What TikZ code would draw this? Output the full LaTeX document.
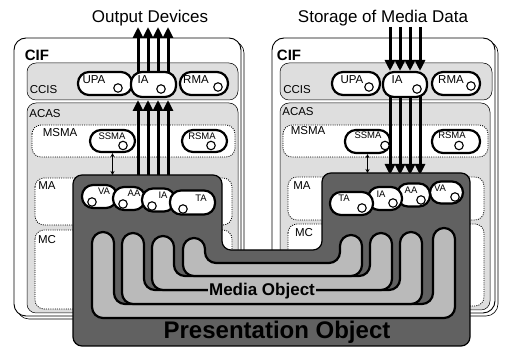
\documentclass[tikz,border=0pt]{standalone}
\usepackage{fontspec}
\setmainfont{Liberation Sans}
\usetikzlibrary{arrows.meta}
\newcommand\agent[8]{%
  \node[oval,minimum width=#3,minimum height=#4] (#1) at #2 {};
  \node[#8] (#1t) at #6 {#5};
  \node[port] (#1c) at #7 {};}
\newcommand\tube[6]{%
  \draw[mo] ({(#1+#3)/2},#6) -- (#1,#6) -- (#1,#2) -- ({#1+22},#2) -- ({#1+22},#5)
    -- (#3,#5) -- (#3,#4) -- ({#3+22},#4) -- ({#3+22},#6) -- cycle;}
\begin{document}
\begin{tikzpicture}[x=1pt,y=-1pt,
 cifbox/.style={draw,line width=0.9pt,fill=white,rounded corners=12pt},
 shadowbox/.style={draw,line width=0.6pt,fill=white,rounded corners=12pt},
 dotbox/.style={draw,line width=0.5pt,fill=black!13,rounded corners=9pt},
 dashbox/.style={draw,line width=0.8pt,dash pattern=on 1pt off 1.2pt,fill=white,rounded corners=9pt},
 oval/.style={draw,line width=2.2pt,fill=white,rounded corners=11pt,inner sep=0pt},
 port/.style={circle,draw,line width=1.1pt,minimum size=8.5pt,inner sep=0pt,fill=white},
 lbl/.style={inner sep=0pt,font=\fontsize{11.5}{11.5}\selectfont},
 slbl/.style={inner sep=0pt,font=\fontsize{9.5}{9.5}\selectfont},
 boxlbl/.style={inner sep=0pt,font=\fontsize{11.5}{11.5}\selectfont},
 ciflbl/.style={inner sep=0pt,font=\bfseries\fontsize{15}{15}\selectfont},
 head/.style={inner sep=0pt,font=\fontsize{17}{17}\selectfont},
 fat/.style={line width=3pt,-{Triangle[width=10pt,length=11pt]}},
 thinarr/.style={line width=1pt,{Stealth[length=4pt,width=4pt]}-{Stealth[length=4pt,width=4pt]}},
 po/.style={draw,line width=1.2pt,fill=black!62,rounded corners=9pt},
 mo/.style={draw,line width=2.2pt,fill=black!27,rounded corners=11pt},
]
\useasboundingbox (0,0) rectangle (507,352);

% ---------- left CIF ----------
\draw[shadowbox] (17,41) rectangle (244,319);
\draw[cifbox] (14,38) rectangle (241,316);
\draw[dotbox] (27,63) rectangle (238,100);
\draw[dotbox] (27,103) rectangle (238,313);
\draw[dashbox] (32,125) rectangle (235,157);
\draw[dashbox] (35,178) rectangle (232,225);
\draw[dashbox] (35,230) rectangle (232,309);
\node[ciflbl] (lcif) at (37,55) {CIF};
\node[boxlbl] (lccis) at (43.5,90) {CCIS};
\node[boxlbl] (lacas) at (45,114) {ACAS};
\node[boxlbl] (lmsma) at (60,133) {MSMA};
\node[boxlbl] (lma) at (47,186) {MA};
\node[boxlbl] (lmc) at (47,240) {MC};

% ---------- right CIF ----------
\draw[shadowbox] (275,41) rectangle (498,316);
\draw[cifbox] (272,38) rectangle (495,313);
\draw[dotbox] (280,63) rectangle (492,100);
\draw[dotbox] (280,103) rectangle (490,310);
\draw[dashbox] (283,125) rectangle (488,157);
\draw[dashbox] (288,177) rectangle (484,220);
\draw[dashbox] (288,224) rectangle (484,306);
\node[ciflbl] (rcif) at (289,55) {CIF};
\node[boxlbl] (rccis) at (297,90) {CCIS};
\node[boxlbl] (racas) at (298,112) {ACAS};
\node[boxlbl] (rmsma) at (308,131) {MSMA};
\node[boxlbl] (rma) at (302,186) {MA};
\node[boxlbl] (rmc) at (304,233) {MC};

% ---------- headings ----------
\node[head] (outdev) at (150,18) {Output Devices};
\node[head] (storage) at (383,18) {Storage of Media Data};

% ---------- media streams ----------
\foreach \i/\x in {1/138,2/148,3/158,4/168}{
  \coordinate (lo\i) at (\x,27);
  \coordinate (lu\i) at (\x,74);
  \coordinate (ld\i) at (\x,100);
  \coordinate (lp\i) at (\x,176);
}
\foreach \i/\x in {1/390,2/400,3/410,4/420}{
  \coordinate (ri\i) at (\x,27);
  \coordinate (rt\i) at (\x,71);
  \coordinate (rb\i) at (\x,95);
  \coordinate (rp\i) at (\x,175);
}
\foreach \i in {1,...,4}{
  \draw[fat] (lu\i) -- (lo\i);
  \draw[fat] (lp\i) -- (ld\i);
  \draw[fat] (ri\i) -- (rt\i);
  \draw[fat] (rb\i) -- (rp\i);
}

% ---------- agents in CCIS / MSMA ----------
\agent{lUPA}{(105,83.5)}{54pt}{23pt}{UPA}{(94,80)}{(118,88)}{lbl}
\agent{lIAc}{(153.5,84.5)}{45pt}{25pt}{IA}{(143,80)}{(161,89)}{lbl}
\agent{lRMA}{(204,83.5)}{48pt}{23pt}{RMA}{(196,80)}{(218,87)}{lbl}
\agent{lSSMA}{(112.5,141)}{45pt}{22pt}{SSMA}{(112,136)}{(123,145.5)}{slbl}
\agent{lRSMA}{(204.5,141)}{45pt}{22pt}{RSMA}{(202,136)}{(211,145.5)}{slbl}

\agent{rUPA}{(356,83.5)}{48pt}{23pt}{UPA}{(352,80)}{(369,87)}{lbl}
\agent{rIAc}{(405,84.5)}{44pt}{25pt}{IA}{(397,80)}{(417,89)}{lbl}
\agent{rRMA}{(456,83.5)}{48pt}{23pt}{RMA}{(451,80)}{(471,86)}{lbl}
\agent{rSSMA}{(367.5,141.5)}{45pt}{23pt}{SSMA}{(368,135)}{(385,145.5)}{slbl}
\agent{rRSMA}{(456,141.5)}{48pt}{23pt}{RSMA}{(452,135)}{(459,145.5)}{slbl}

% ---------- presentation object ----------
\draw[po] (73,346) -- (73,175) -- (222,175) -- (222,250) -- (322,250)
  -- (322,173) -- (470,173) -- (470,346) -- cycle;
\coordinate (lsd) at (112.5,175);
\coordinate (rsd) at (367.5,173);
\draw[thinarr] (lSSMA.south) -- (lsd);
\draw[thinarr] (rSSMA.south) -- (rsd);

% ---------- media object (nested tubes) ----------
\tube{92}{232}{433}{228}{304}{318}
\tube{122}{233}{400}{232}{290}{304}
\tube{152}{236}{370}{233}{276}{290}
\tube{183}{238}{340}{235}{263}{276}

% ---------- agents in presentation object ----------
\agent{lVA}{(99.5,196.5)}{35pt}{23pt}{VA}{(104,191)}{(92,202)}{slbl}
\agent{lAA}{(129,198.5)}{32pt}{23pt}{AA}{(134,193)}{(123,204)}{slbl}
\agent{lIA}{(158.5,200)}{33pt}{23pt}{IA}{(163,195)}{(152,206)}{slbl}
\agent{lTA}{(192.5,202.5)}{45pt}{24pt}{TA}{(201,198)}{(183,209)}{slbl}

\agent{rVA}{(446.5,192.5)}{33pt}{22pt}{VA}{(440,188)}{(455,197)}{slbl}
\agent{rAA}{(413.5,195)}{33pt}{23pt}{AA}{(411,190)}{(421,200)}{slbl}
\agent{rIA}{(385,198.5)}{34pt}{23pt}{IA}{(381,194)}{(393,203)}{slbl}
\agent{rTA}{(351.5,203.5)}{43pt}{23pt}{TA}{(344,198)}{(362,208)}{slbl}

% ---------- object labels ----------
\node[inner sep=1pt,fill=black!27,font=\bfseries\fontsize{17}{17}\selectfont] (molbl) at (262,291) {Media Object};
\node[inner sep=0pt,font=\bfseries\fontsize{24}{24}\selectfont] (polbl) at (277,332) {Presentation Object};
\end{tikzpicture}
\end{document}
